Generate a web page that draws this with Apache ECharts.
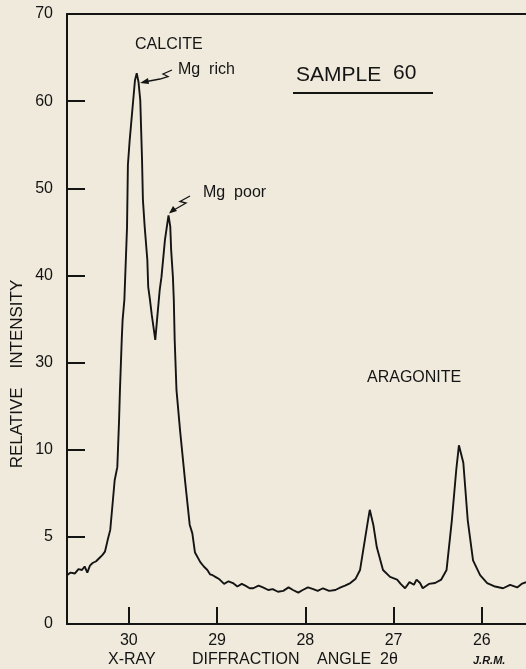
<!DOCTYPE html>
<html>
<head>
<meta charset="utf-8">
<script src="https://cdn.jsdelivr.net/npm/echarts@6/dist/echarts.min.js"></script>
<style>
  html, body { margin: 0; padding: 0; background: #efeadc; }
  #chart { width: 526px; height: 669px; }
</style>
</head>
<body>
<div id="chart"></div>
<script>
// diffraction angle 2θ (degrees)
const angle = [30.70, 30.66, 30.61, 30.57, 30.53, 30.50, 30.47, 30.44, 30.41, 30.37, 30.33, 30.30, 30.27, 30.24, 30.21,
    30.18, 30.16, 30.13, 30.11, 30.10, 30.08, 30.07, 30.05, 30.02, 30.01, 29.99, 29.95, 29.93, 29.91, 29.89, 29.87,
    29.85, 29.84, 29.82, 29.79, 29.78, 29.76, 29.74, 29.70, 29.68, 29.65, 29.63, 29.59, 29.55, 29.53, 29.52, 29.50,
    29.49, 29.48, 29.46, 29.44, 29.42, 29.36, 29.31, 29.28, 29.25, 29.19, 29.15, 29.11, 29.08, 29.05, 29.00, 28.97,
    28.92, 28.87, 28.82, 28.77, 28.72, 28.68, 28.63, 28.59, 28.53, 28.48, 28.42, 28.37, 28.31, 28.25, 28.19, 28.14,
    28.08, 28.03, 27.97, 27.91, 27.86, 27.80, 27.73, 27.66, 27.60, 27.55, 27.49, 27.43, 27.38, 27.32, 27.29, 27.27,
    27.23, 27.19, 27.12, 27.04, 26.96, 26.92, 26.87, 26.82, 26.77, 26.74, 26.70, 26.67, 26.60, 26.53, 26.46, 26.40,
    26.34, 26.29, 26.26, 26.21, 26.16, 26.10, 26.02, 25.94, 25.85, 25.76, 25.68, 25.60, 25.55, 25.50];
// relative intensity, in plotted axis units (tick every 10)
const intensity = [5.6, 5.9, 5.8, 6.3, 6.2, 6.6, 5.9, 6.7, 7.0, 7.2, 7.6, 7.9, 8.3, 9.6, 10.8,
    14.2, 16.5, 18.0, 23.4, 26.9, 32.6, 34.9, 37.2, 45.5, 52.7, 55.5, 60.1, 62.4, 63.2, 62.2, 60.1,
    53.3, 48.7, 45.6, 41.8, 38.7, 37.2, 35.5, 32.6, 34.9, 38.3, 39.8, 44.1, 46.9, 45.6, 42.9, 39.8,
    37.2, 32.6, 26.9, 24.6, 22.3, 16.2, 11.4, 10.4, 8.2, 7.1, 6.6, 6.2, 5.7, 5.6, 5.3, 5.1,
    4.6, 4.9, 4.7, 4.3, 4.6, 4.4, 4.1, 4.1, 4.4, 4.2, 3.9, 4.0, 3.7, 3.8, 4.2, 3.9,
    3.6, 3.9, 4.2, 4.0, 3.8, 4.1, 3.8, 3.9, 4.2, 4.4, 4.7, 5.2, 6.2, 10.0, 11.9, 13.1,
    11.4, 8.8, 6.2, 5.4, 5.1, 4.6, 4.1, 4.8, 4.5, 5.1, 4.7, 4.1, 4.6, 4.7, 5.1, 6.2,
    11.9, 17.7, 20.5, 18.5, 11.9, 7.3, 5.6, 4.7, 4.3, 4.1, 4.5, 4.2, 4.6, 4.8];
// printed y tick labels (evenly spaced on the drawing)
const yTickLabels = ['0', '5', '10', '30', '40', '50', '60', '70'];
const xTicks = [30, 29, 28, 27, 26];

const ink = '#141414';
const font = '"Liberation Sans", "DejaVu Sans", sans-serif';

let chart = echarts.init(document.getElementById('chart'));
let points = angle.map((a, i) => [a, intensity[i]]);

function label(text, left, top, size) {
    return { type: 'text', left: left, top: top,
        style: { text: text, fill: ink, font: size + 'px ' + font } };
}

let option = {
    backgroundColor: '#efeadc',
    animation: false,
    grid: { left: 67, right: 0, top: 14, bottom: 45, containLabel: false },
    xAxis: [{
        type: 'value',
        min: 25.5,
        max: 30.7,
        inverse: true,
        interval: 1,
        axisLine: { show: true, lineStyle: { color: ink, width: 2 } },
        axisTick: { show: true, inside: true, length: 17, lineStyle: { color: ink, width: 2 },
            customValues: xTicks },
        axisLabel: { color: ink, fontSize: 16, fontFamily: font, margin: 9, customValues: xTicks,
            formatter: v => String(v) },
        splitLine: { show: false }
    }, {
        type: 'value',
        position: 'top',
        min: 25.5,
        max: 30.7,
        inverse: true,
        axisLine: { show: true, lineStyle: { color: ink, width: 2 } },
        axisTick: { show: false },
        axisLabel: { show: false },
        splitLine: { show: false }
    }],
    yAxis: {
        type: 'value',
        min: 0,
        max: 70,
        interval: 10,
        axisLine: { show: true, lineStyle: { color: ink, width: 2 } },
        axisTick: { show: true, inside: true, length: 18, lineStyle: { color: ink, width: 2 } },
        axisLabel: { color: ink, fontSize: 16, fontFamily: font, margin: 14,
            formatter: v => yTickLabels[Math.round(v / 10)] },
        splitLine: { show: false }
    },
    series: [{
        type: 'line',
        data: points,
        showSymbol: false,
        lineStyle: { color: ink, width: 1.9 }
    }],
    graphic: [
        label('CALCITE', 135, 37, 16),
        label('Mg  rich', 178, 62, 16),
        label('Mg  poor', 203, 185, 16),
        label('SAMPLE', 296, 65, 21),
        label('60', 393, 63, 21),
        { type: 'line', shape: { x1: 293, y1: 93, x2: 433, y2: 93 }, style: { stroke: ink, lineWidth: 2 } },
        label('ARAGONITE', 367, 370, 16),
        label('X-RAY', 108, 652, 16),
        label('DIFFRACTION', 192, 652, 16),
        label('ANGLE', 317, 652, 16),
        label('2θ', 380, 652, 16),
        { type: 'text', left: 473, top: 655, style: { text: 'J.R.M.', fill: ink, font: 'italic bold 11px ' + font } },
        { type: 'text', x: 17, y: 374, rotation: Math.PI / 2,
            style: { text: 'RELATIVE    INTENSITY', fill: ink, font: '17px ' + font,
                align: 'center', verticalAlign: 'middle' } },
        // arrow to Mg rich peak
        { type: 'polyline', shape: { points: [[144, 82], [160, 79], [168, 76.5], [163, 74], [172, 70]] },
            style: { stroke: ink, lineWidth: 1.3, fill: null } },
        { type: 'polygon', shape: { points: [[140, 83], [148, 78], [149, 84]] }, style: { fill: ink } },
        // arrow to Mg poor peak
        { type: 'polyline', shape: { points: [[172, 211], [180, 206.5], [186, 203], [180, 201.5], [190, 196]] },
            style: { stroke: ink, lineWidth: 1.3, fill: null } },
        { type: 'polygon', shape: { points: [[169, 213.5], [173, 206], [177, 211]] }, style: { fill: ink } }
    ]
};
chart.setOption(option);
</script>
</body>
</html>
